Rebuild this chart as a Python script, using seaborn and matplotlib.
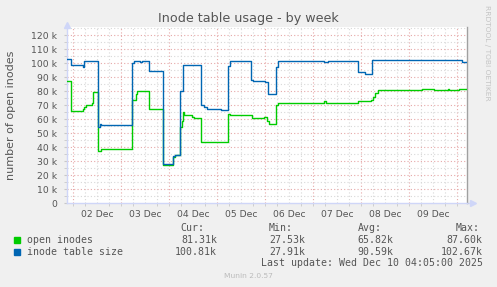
import matplotlib
matplotlib.use("Agg")
import numpy as np
import pandas as pd
import seaborn as sns
import matplotlib.pyplot as plt
from matplotlib.patches import Rectangle

# ---- data (time in hours since 2025-12-01 00:00, values in thousands) ----
open_t = [20.67, 22.8, 28.6, 29.3, 30.3, 33.1, 33.8, 36.3, 37.6, 53.3, 55.1, 55.8,
          61.8, 68.8, 74.0, 75.0, 77.3, 78.1, 78.6, 79.3, 83.1, 84.3, 87.6, 101.1,
          102.1, 113.1, 119.3, 120.6, 121.8, 125.1, 126.1, 149.3, 150.3, 166.1,
          172.8, 173.8, 174.8, 176.1, 198.3, 204.3, 211.1, 211.8, 216.8, 220.67]
open_v = [87.6, 66.0, 67.5, 69.0, 70.5, 72.0, 79.5, 37.5, 38.8, 73.8, 78.0, 80.5,
          67.1, 27.5, 33.0, 34.5, 54.5, 59.0, 65.5, 62.8, 62.0, 61.2, 43.6, 63.5,
          62.9, 60.9, 61.5, 59.0, 56.6, 70.5, 71.4, 72.8, 71.4, 73.1,
          73.8, 76.0, 78.5, 80.7, 81.4, 80.7, 81.3, 80.7, 81.3, 81.3]

size_t = [20.67, 22.8, 28.7, 29.3, 36.3, 37.3, 37.8, 53.3, 54.3, 57.3, 58.3, 61.8,
          68.8, 74.0, 75.0, 77.3, 78.6, 87.6, 89.3, 90.8, 97.6, 101.1, 102.1, 112.8,
          113.8, 119.8, 121.1, 125.1, 126.3, 149.3, 151.3, 166.1, 169.8, 173.1,
          218.1, 220.67]
size_v = [103.0, 98.5, 97.5, 102.0, 54.7, 56.5, 55.8, 100.5, 101.5, 101.0, 101.8, 94.3,
          28.0, 33.5, 34.5, 80.5, 98.5, 70.0, 69.0, 67.3, 66.5, 98.0, 102.0, 88.0,
          87.3, 86.3, 78.0, 97.5, 102.0, 100.9, 102.0, 94.0, 92.4, 102.1,
          100.8, 100.8]

series_names = ["open inodes", "inode table size"]
series_colors = ["#00CC00", "#0066B3"]
day_labels = ["02 Dec", "03 Dec", "04 Dec", "05 Dec", "06 Dec", "07 Dec", "08 Dec", "09 Dec"]
legend_cur = ["81.31k", "100.81k"]
legend_min = ["27.53k", "27.91k"]
legend_avg = ["65.82k", "90.59k"]
legend_max = ["87.60k", "102.67k"]

df = pd.concat([
    pd.DataFrame({"t": open_t, "v": open_v, "series": series_names[0]}),
    pd.DataFrame({"t": size_t, "v": size_v, "series": series_names[1]}),
])

# ---- figure ----
W, H = 497, 287
BG = "#F0F0F0"
FONT = "#555555"
fig = plt.figure(figsize=(W / 100, H / 100), dpi=100, facecolor=BG)
ax_l, ax_r, ax_b, ax_t = 66.7, 466.7, 203.3, 26.9
ax = fig.add_axes([ax_l / W, 1 - ax_b / H, (ax_r - ax_l) / W, (ax_b - ax_t) / H])
ax.set_facecolor("white")

start_h, end_h = 20.67, 220.67
ymax = 126

# grid
dot = (0, (1, 2))
for h in np.arange(24, end_h, 6):
    col = "#E6A8A8" if h % 24 == 0 else "#D8D8D8"
    ax.axvline(h, color=col, lw=0.8, ls=dot, zorder=0)
for y in np.arange(5, ymax, 5):
    col = "#E6A8A8" if y % 10 == 0 else "#D8D8D8"
    ax.axhline(y, color=col, lw=0.8, ls=dot, zorder=0)

sns.lineplot(data=df, x="t", y="v", hue="series", hue_order=series_names,
             palette=series_colors, estimator=None, sort=True,
             drawstyle="steps-post", lw=1.0, legend=False, ax=ax, zorder=3)

ax.set_xlim(start_h, end_h)
ax.set_ylim(0, ymax)
ax.set_xlabel("")
ax.set_ylabel("number of open inodes", fontsize=8, color=FONT, labelpad=11)

ax.set_xticks([24 * (i + 2) - 12 for i in range(len(day_labels))])
ax.set_xticklabels(day_labels)
ax.set_xticks(np.arange(24, end_h, 6), minor=True)
yt = np.arange(0, 121, 10)
ax.set_yticks(yt)
ax.set_yticklabels(["0" if v == 0 else f"{v} k" for v in yt])
ax.set_yticks(np.arange(5, 121, 10), minor=True)
ax.tick_params(axis="x", which="major", length=0, pad=5, labelsize=6.7, labelcolor=FONT)
ax.tick_params(axis="x", which="minor", length=2, color="#C8C8C8", direction="out")
ax.tick_params(axis="y", which="both", length=2, color="#C8C8C8", pad=5,
               labelsize=6.7, labelcolor=FONT)

ax.spines["top"].set_visible(False)
ax.spines["left"].set_color("#CFD6F8")
ax.spines["bottom"].set_color("#CFD6F8")
ax.spines["right"].set_color("#A0A0A0")
for s in ["left", "bottom", "right"]:
    ax.spines[s].set_linewidth(1.0)

# axis arrows
ax.plot([0], [1.01], marker="^", ms=5, color="#CFD6F8", transform=ax.transAxes,
        clip_on=False, zorder=5)
ax.plot([1, 1.015], [0, 0], color="#CFD6F8", lw=1, transform=ax.transAxes, clip_on=False)
ax.plot([1.015], [0], marker=">", ms=5, color="#CFD6F8", transform=ax.transAxes,
        clip_on=False, zorder=5)

# titles / texts
def fy(y):
    return 1 - y / H

fig.text(248 / W, fy(18.5), "Inode table usage - by week", ha="center", va="center",
         fontsize=9.2, color=FONT)
fig.text(486.7 / W, fy(53), "RRDTOOL / TOBI OETIKER", ha="center", va="center",
         rotation=270, fontsize=5.4, color="#C4C4C4")
fig.text(248 / W, fy(276), "Munin 2.0.57", ha="center", va="center",
         fontsize=5.4, color="#BBBBBB")

mono = dict(family="DejaVu Sans Mono", fontsize=7.1, color=FONT, va="center")
for x, lab in zip([204, 293, 382, 480], ["Cur:", "Min:", "Avg:", "Max:"]):
    fig.text(x / W, fy(227.7), lab, ha="right", **mono)
rows_y = [240, 251.7]
for i in range(2):
    y = rows_y[i]
    fig.patches.append(Rectangle((14 / W, fy(y + 3)), 6 / W, 6 / H,
                                 transform=fig.transFigure, color=series_colors[i]))
    fig.text(26.7 / W, fy(y), series_names[i], ha="left", **mono)
    for x, val in zip([217, 305.7, 393, 482.7],
                      [legend_cur[i], legend_min[i], legend_avg[i], legend_max[i]]):
        fig.text(x / W, fy(y), val, ha="right", **mono)
fig.text(482.7 / W, fy(263.3), "Last update: Wed Dec 10 04:05:00 2025", ha="right", **mono)

fig.savefig("out.png", dpi=100, facecolor=BG)
